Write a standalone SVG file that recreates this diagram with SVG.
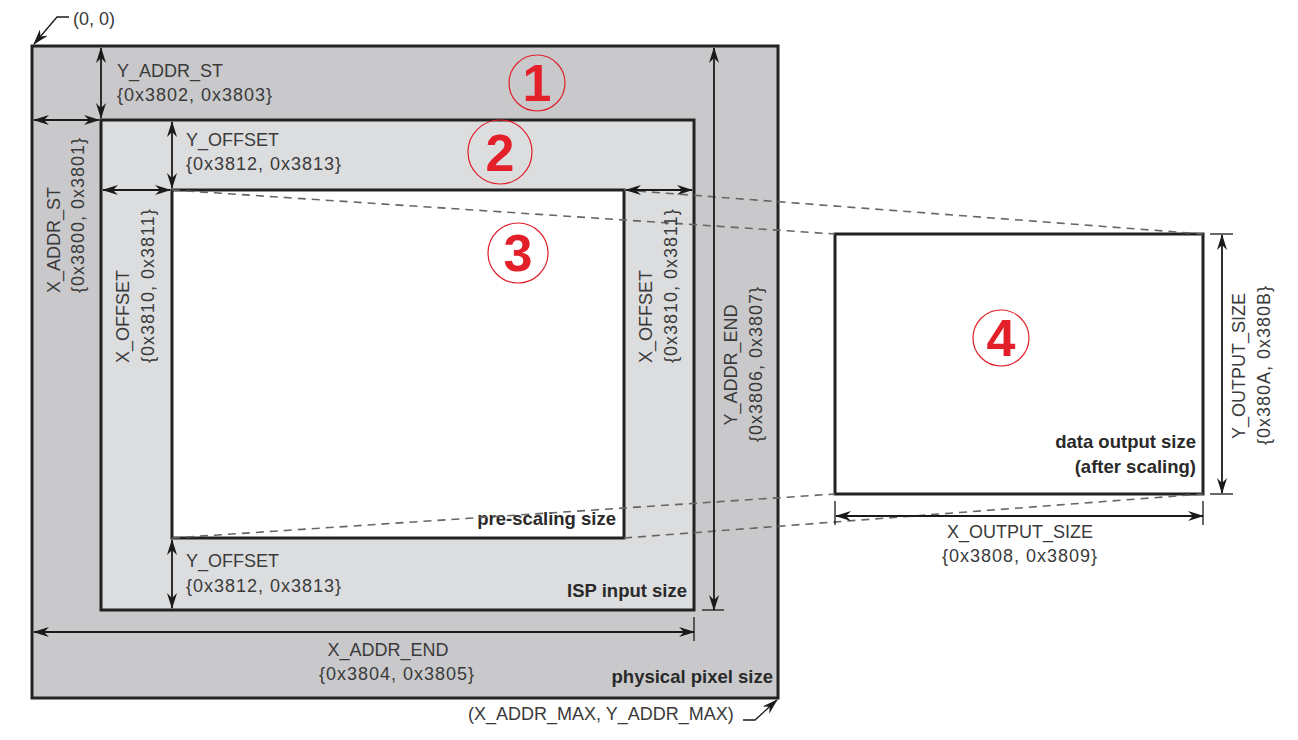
<svg xmlns="http://www.w3.org/2000/svg" width="1298" height="740" viewBox="0 0 1298 740">
<defs>
<marker id="ah" viewBox="0 0 16 10" refX="15" refY="5" markerWidth="16" markerHeight="10" markerUnits="userSpaceOnUse" orient="auto-start-reverse">
<path d="M0,0 L16,5 L0,10 L5,5 z" fill="#1a1a1a"/>
</marker>
<style>
.box{stroke:#222;stroke-width:3}
.dim{stroke:#1a1a1a;stroke-width:1.8;fill:none}
.tick{stroke:#1a1a1a;stroke-width:1.3;fill:none}
.dash{stroke:#666;stroke-width:1.6;stroke-dasharray:8 6;fill:none}
.t{font-family:"Liberation Sans",Arial,sans-serif;font-size:18px;fill:#3a3a3a}
.r{letter-spacing:1px}
.b{font-family:"Liberation Sans",Arial,sans-serif;font-size:18.5px;font-weight:bold;fill:#2a2a2a;text-anchor:end}
.c{fill:none;stroke:#e0202a;stroke-width:1.2}
.n{font-family:"Liberation Sans",Arial,sans-serif;font-size:52px;font-weight:bold;fill:#e3202a;text-anchor:middle}
</style>
</defs>
<rect width="1298" height="740" fill="#fff"/>

<g id="physical-pixel">
<rect class="box" x="32" y="46" width="746" height="652" fill="#c9c9cb"/>
<text class="b" x="773" y="683">physical pixel size</text>
<circle class="c" cx="537" cy="83" r="28"/>
<text class="n" x="537" y="101">1</text>
</g>

<g id="isp-input">
<rect class="box" x="101" y="120" width="593" height="490" fill="#dcdddf"/>
<text class="b" x="687" y="597">ISP input size</text>
<circle class="c" cx="500" cy="152" r="32"/>
<text class="n" x="500" y="171">2</text>
</g>

<g id="pre-scaling">
<rect class="box" x="172" y="190" width="452" height="348" fill="#fff"/>
<text class="b" x="616" y="525">pre-scaling size</text>
<circle class="c" cx="518" cy="253" r="30"/>
<text class="n" x="518" y="271">3</text>
</g>

<g id="data-output">
<rect class="box" x="835" y="234" width="368" height="260" fill="#fff"/>
<text class="b" x="1196" y="448">data output size</text>
<text class="b" x="1196" y="473">(after scaling)</text>
<circle class="c" cx="1001" cy="338" r="28"/>
<text class="n" x="1001" y="356">4</text>
</g>

<g id="connectors">
<line class="dash" x1="172" y1="190" x2="835" y2="234"/>
<line class="dash" x1="624" y1="190" x2="1203" y2="234"/>
<line class="dash" x1="172" y1="538" x2="835" y2="494"/>
<line class="dash" x1="624" y1="538" x2="1203" y2="494"/>

<line class="dim" x1="101" y1="48" x2="101" y2="118" marker-start="url(#ah)" marker-end="url(#ah)"/>
<line class="dim" x1="34" y1="120" x2="99" y2="120" marker-start="url(#ah)" marker-end="url(#ah)"/>
<line class="dim" x1="172" y1="122" x2="172" y2="188" marker-start="url(#ah)" marker-end="url(#ah)"/>
<line class="dim" x1="103" y1="190" x2="170" y2="190" marker-start="url(#ah)" marker-end="url(#ah)"/>
<line class="dim" x1="626" y1="190" x2="692" y2="190" marker-start="url(#ah)" marker-end="url(#ah)"/>
<line class="dim" x1="172" y1="540" x2="172" y2="608" marker-start="url(#ah)" marker-end="url(#ah)"/>
<line class="dim" x1="714" y1="48" x2="714" y2="610" marker-start="url(#ah)" marker-end="url(#ah)"/>
<line class="tick" x1="702" y1="610" x2="724" y2="610"/>
<line class="dim" x1="34" y1="632" x2="694" y2="632" marker-start="url(#ah)" marker-end="url(#ah)"/>
<line class="tick" x1="694" y1="617" x2="694" y2="641"/>
<line class="dim" x1="836" y1="516" x2="1203" y2="516" marker-start="url(#ah)" marker-end="url(#ah)"/>
<line class="tick" x1="835" y1="501" x2="835" y2="525"/>
<line class="tick" x1="1203" y1="501" x2="1203" y2="525"/>
<line class="dim" x1="1222" y1="235" x2="1222" y2="493" marker-start="url(#ah)" marker-end="url(#ah)"/>
<line class="tick" x1="1210" y1="234" x2="1233" y2="234"/>
<line class="tick" x1="1210" y1="494" x2="1233" y2="494"/>

<polyline class="tick" points="69,17 57,17 34,44" marker-end="url(#ah)"/>
<polyline class="tick" points="743,720 755,720 777,700" marker-end="url(#ah)"/>
</g>

<g id="labels">
<text class="t" x="73" y="25">(0, 0)</text>
<text class="t" x="468" y="720">(X_ADDR_MAX, Y_ADDR_MAX)</text>

<text class="t" x="117" y="77">Y_ADDR_ST</text>
<text class="t r" x="117" y="101">{0x3802, 0x3803}</text>

<text class="t" x="186" y="146">Y_OFFSET</text>
<text class="t r" x="186" y="170">{0x3812, 0x3813}</text>

<text class="t" x="186" y="567">Y_OFFSET</text>
<text class="t r" x="186" y="592">{0x3812, 0x3813}</text>

<text class="t" x="388" y="656" text-anchor="middle">X_ADDR_END</text>
<text class="t r" x="397" y="680" text-anchor="middle">{0x3804, 0x3805}</text>

<text class="t" x="1020" y="538" text-anchor="middle">X_OUTPUT_SIZE</text>
<text class="t r" x="1020" y="562" text-anchor="middle">{0x3808, 0x3809}</text>

<g transform="translate(60,293) rotate(-90)"><text class="t" x="0" y="0">X_ADDR_ST</text></g>
<g transform="translate(84,293) rotate(-90)"><text class="t r" x="0" y="0">{0x3800, 0x3801}</text></g>

<g transform="translate(129,363) rotate(-90)"><text class="t" x="0" y="0">X_OFFSET</text></g>
<g transform="translate(154,363) rotate(-90)"><text class="t r" x="0" y="0">{0x3810, 0x3811}</text></g>

<g transform="translate(652,363) rotate(-90)"><text class="t" x="0" y="0">X_OFFSET</text></g>
<g transform="translate(677,363) rotate(-90)"><text class="t r" x="0" y="0">{0x3810, 0x3811}</text></g>

<g transform="translate(737,365) rotate(-90)"><text class="t" x="0" y="0" text-anchor="middle">Y_ADDR_END</text></g>
<g transform="translate(762,364) rotate(-90)"><text class="t r" x="0" y="0" text-anchor="middle">{0x3806, 0x3807}</text></g>

<g transform="translate(1245,366) rotate(-90)"><text class="t" x="0" y="0" text-anchor="middle">Y_OUTPUT_SIZE</text></g>
<g transform="translate(1270,365) rotate(-90)"><text class="t r" x="0" y="0" text-anchor="middle">{0x380A, 0x380B}</text></g>
</g>
</svg>
